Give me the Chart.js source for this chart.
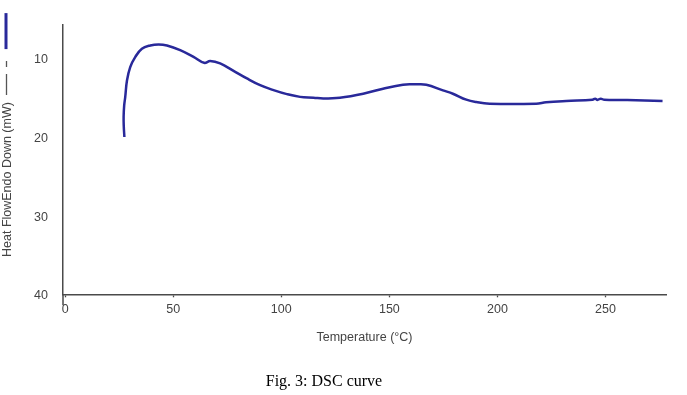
<!DOCTYPE html>
<html>
<head>
<meta charset="utf-8">
<script src="https://cdn.jsdelivr.net/npm/chart.js@4/dist/chart.umd.min.js"></script>
<style>
  html, body { margin: 0; padding: 0; background: #ffffff; }
  #wrap { width: 687px; height: 395px; position: relative; }
</style>
</head>
<body>
<div id="wrap"><canvas id="c" width="687" height="395"></canvas></div>
<script>
// ---- data ----
const temperature = [27.4, 27.1, 27.05, 27.3, 27.8, 28.6, 30.1, 32.4, 35.5, 39.4, 43.2, 47.1, 53.2, 59.4, 64.3, 67.1, 71.7, 77.9, 84.1, 90.2, 96.4, 102.6, 108.7, 114.9, 119.4, 127.1, 137.9, 147.1, 156.3, 161.7, 167.1, 174.8, 179.4, 185.6, 190.2, 196.4, 217.9, 222.5, 231.8, 244.0, 245.2, 246.3, 247.8, 249.5, 260.0, 276.4];
const heatFlow    = [20.0, 18.5, 17.4, 16.0, 14.9, 12.8, 11.1, 9.83, 8.77, 8.35, 8.22, 8.35, 8.94, 9.80, 10.56, 10.34, 10.64, 11.58, 12.55, 13.40, 14.03, 14.54, 14.89, 15.0, 15.1, 15.0, 14.49, 13.85, 13.34, 13.3, 13.34, 14.07, 14.49, 15.25, 15.55, 15.75, 15.75, 15.59, 15.42, 15.25, 15.12, 15.28, 15.12, 15.27, 15.3, 15.42];
const xTickValues = [0, 50, 100, 150, 200, 250];
const yTickValues = [10, 20, 30, 40];
const seriesLabel = 'Heat Flow';
const xTitle = 'Temperature (°C)';
const yTitle = 'Heat FlowEndo Down (mW)';
const caption = 'Fig. 3: DSC curve';

const axisColor = '#4a4a4a';
const textColor = '#444444';
const lineColor = '#29299a';

const points = temperature.map((t, i) => ({ x: t, y: heatFlow[i] }));

const decorPlugin = {
  id: 'decor',
  afterDraw(chart) {
    const ctx = chart.ctx;
    const area = chart.chartArea;
    ctx.save();
    // y axis continues a little below the x axis
    ctx.strokeStyle = axisColor;
    ctx.lineWidth = 1.5;
    ctx.beginPath();
    ctx.moveTo(area.left, area.bottom);
    ctx.lineTo(area.left, area.bottom + 11);
    ctx.stroke();

    // rotated y-axis title with its line-style key
    ctx.font = '12.5px "Liberation Sans", Arial, sans-serif';
    ctx.fillStyle = textColor;
    const tx = 8, ty = 257;
    const w = ctx.measureText(yTitle).width;
    ctx.save();
    ctx.translate(tx, ty);
    ctx.rotate(-Math.PI / 2);
    ctx.textAlign = 'left';
    ctx.textBaseline = 'middle';
    ctx.fillText(yTitle, 0, 0);
    ctx.restore();
    const end = ty - w;
    ctx.strokeStyle = '#555555';
    ctx.lineWidth = 1.3;
    ctx.beginPath();
    ctx.moveTo(6.5, end - 7); ctx.lineTo(6.5, end - 28);
    ctx.moveTo(6.5, end - 35); ctx.lineTo(6.5, end - 41);
    ctx.stroke();
    ctx.strokeStyle = lineColor;
    ctx.lineWidth = 3;
    ctx.beginPath();
    ctx.moveTo(6, end - 53); ctx.lineTo(6, end - 89);
    ctx.stroke();

    // figure caption
    ctx.font = '16px "Liberation Serif", "Times New Roman", serif';
    ctx.fillStyle = '#000000';
    ctx.textAlign = 'center';
    ctx.textBaseline = 'middle';
    ctx.fillText(caption, 324, 382);
    ctx.restore();
  }
};

new Chart(document.getElementById('c'), {
  type: 'line',
  data: {
    datasets: [{
      label: seriesLabel,
      data: points,
      borderColor: lineColor,
      backgroundColor: lineColor,
      borderWidth: 2.5,
      pointRadius: 0,
      tension: 0.4,
      fill: false
    }]
  },
  options: {
    responsive: false,
    animation: false,
    devicePixelRatio: 1,
    layout: { padding: { top: 25, right: 21, bottom: 24, left: 0 } },
    plugins: { legend: { display: false }, tooltip: { enabled: false }, title: { display: false } },
    scales: {
      x: {
        type: 'linear',
        min: -1,
        max: 278,
        afterBuildTicks(scale) { scale.ticks = xTickValues.map(v => ({ value: v })); },
        afterFit(scale) { scale.height = 76.7; },
        grid: { display: true, drawOnChartArea: false, drawTicks: true, tickLength: 3, tickColor: axisColor, tickWidth: 1.3 },
        border: { display: true, color: axisColor, width: 1.5 },
        ticks: { color: textColor, padding: 5, maxRotation: 0, autoSkip: false,
                 font: { family: '"Liberation Sans", Arial, sans-serif', size: 12.5 } },
        title: { display: true, text: xTitle, color: textColor,
                 font: { family: '"Liberation Sans", Arial, sans-serif', size: 12.5 },
                 padding: { top: 0, bottom: 25.5 } }
      },
      y: {
        type: 'linear',
        reverse: true,
        min: 5.75,
        max: 40,
        afterBuildTicks(scale) { scale.ticks = yTickValues.map(v => ({ value: v })); },
        afterFit(scale) { scale.width = 63; },
        grid: { display: true, drawOnChartArea: false, drawTicks: false },
        border: { display: true, color: axisColor, width: 1.5 },
        ticks: { color: textColor, padding: 15, labelOffset: 1.5, autoSkip: false,
                 font: { family: '"Liberation Sans", Arial, sans-serif', size: 12.5 } }
      }
    }
  },
  plugins: [decorPlugin]
});
</script>
</body>
</html>
